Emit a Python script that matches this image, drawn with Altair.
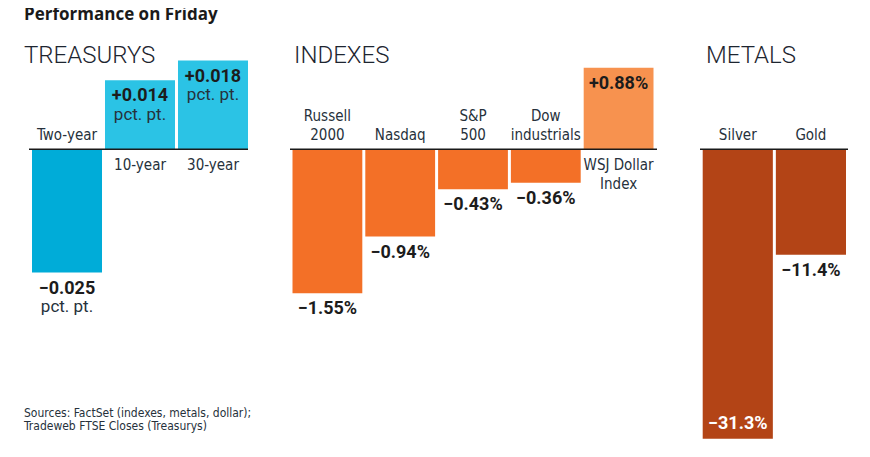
import altair as alt
import pandas as pd

# ---------------- data ----------------
title_text = "Performance on Friday"
panel_titles = ["TREASURYS", "INDEXES", "METALS"]
source_lines = ["Sources: FactSet (indexes, metals, dollar);", "Tradeweb FTSE Closes (Treasurys)"]

treasury_names = ["Two-year", "10-year", "30-year"]
treasury_values = [-0.025, 0.014, 0.018]
treasury_labels = ["\u22120.025", "+0.014", "+0.018"]
treasury_units = ["pct. pt.", "pct. pt.", "pct. pt."]
treasury_colors = ["#00acd8", "#2bc3e5", "#2bc3e5"]
treasury_inside = [False, False, False]

index_names = ["Russell\n2000", "Nasdaq", "S&P\n500", "Dow\nindustrials", "WSJ Dollar\nIndex"]
index_values = [-1.55, -0.94, -0.43, -0.36, 0.88]
index_labels = ["\u22121.55%", "\u22120.94%", "\u22120.43%", "\u22120.36%", "+0.88%"]
index_units = ["", "", "", "", ""]
index_colors = ["#f37027", "#f37027", "#f37027", "#f37027", "#f7924f"]
index_inside = [False, False, False, False, False]

metal_names = ["Silver", "Gold"]
metal_values = [-31.3, -11.4]
metal_labels = ["\u221231.3%", "\u221211.4%"]
metal_units = ["", ""]
metal_colors = ["#b34416", "#b34416"]
metal_inside = [True, False]

# ---------------- layout (pixels, plot coords) ----------------
PAD_TOP = 8
W, H = 854, 441 - PAD_TOP
ZERO_Y = 141.3 - PAD_TOP
NARROW = "DejaVu Sans Condensed, Liberation Sans Narrow, Roboto, sans-serif"
VALFONT = "Roboto, sans-serif"
TEXT_DARK = "#1c1c1c"
NAME_COLOR = "#26313b"


def frame(names, values, labels, units, colors, inside):
    near, far = [], []
    for n, v in zip(names, values):
        parts = n.split("\n")
        if v < 0:  # label sits above the zero line, last line nearest to it
            near.append(parts[-1])
            far.append(parts[0] if len(parts) > 1 else "")
        else:      # label sits below the zero line, first line nearest to it
            near.append(parts[0])
            far.append(parts[1] if len(parts) > 1 else "")
    return pd.DataFrame({
        "name": names, "value": values, "label": labels,
        "unit": units, "color": colors, "inside": inside,
        "near": near, "far": far,
        "zero": [0] * len(names), "idx": list(range(len(names))),
    })


def group(df, names, px_per_unit, bar_range, rule_span, title, title_x, extra=()):
    domain = [-(H - ZERO_Y) / px_per_unit, ZERO_Y / px_per_unit]
    x = alt.X("name:N", sort=names, axis=None,
              scale=alt.Scale(range=bar_range, paddingInner=0.041, paddingOuter=0))
    y = alt.Y("value:Q", axis=None, scale=alt.Scale(domain=domain, nice=False))
    y0 = alt.Y("zero:Q", axis=None)
    base = alt.Chart(df)

    bars = base.mark_bar().encode(x=x, y=y, color=alt.Color("color:N", scale=None))

    rule = base.transform_filter("datum.idx == 0").mark_rule(
        color="#1a1a1a", strokeWidth=1.4
    ).encode(y=y0, x=alt.value(rule_span[0]), x2=alt.value(rule_span[1]))

    name_style = dict(baseline="alphabetic", font=NARROW, fontSize=15, color=NAME_COLOR)
    neg = base.transform_filter("datum.value < 0")
    pos = base.transform_filter("datum.value >= 0")
    above_near = neg.mark_text(dy=-9, **name_style).encode(x=x, y=y0, text="near:N")
    above_far = neg.mark_text(dy=-28, **name_style).encode(x=x, y=y0, text="far:N")
    below_near = pos.mark_text(dy=21, **name_style).encode(x=x, y=y0, text="near:N")
    below_far = pos.mark_text(dy=40, **name_style).encode(x=x, y=y0, text="far:N")

    vals_out = base.transform_filter("!datum.inside").mark_text(
        baseline="alphabetic", dy=21, font=VALFONT, fontSize=18, fontWeight="bold",
        color=TEXT_DARK
    ).encode(x=x, y=y, text="label:N")

    vals_in = base.transform_filter("datum.inside").mark_text(
        baseline="alphabetic", dy=-10, font=VALFONT, fontSize=18, fontWeight="bold",
        color="white"
    ).encode(x=x, y=y, text="label:N")

    unit_txt = base.transform_filter("datum.unit != ''").mark_text(
        baseline="alphabetic", dy=39.5, font=VALFONT, fontSize=17, color=NAME_COLOR
    ).encode(x=x, y=y, text="unit:N")

    ttl = alt.Chart(pd.DataFrame({"t": [title]})).mark_text(
        align="left", baseline="alphabetic", font="Roboto", fontWeight=300,
        fontSize=24, color="#1d2530"
    ).encode(text="t:N", x=alt.value(title_x), y=alt.value(55 - PAD_TOP))

    return alt.layer(bars, rule, above_near, above_far, below_near, below_far,
                     vals_out, vals_in, unit_txt, ttl, *extra)


main_title = alt.Chart(pd.DataFrame({"t": [title_text]})).mark_text(
    align="left", baseline="alphabetic", font="Open Sans", fontWeight="bold",
    fontSize=17, color="#1a1a1a"
).encode(text="t:N", x=alt.value(16), y=alt.value(12 - PAD_TOP))

sources = alt.Chart(pd.DataFrame({"t": ["\n".join(source_lines)]})).mark_text(
    align="left", baseline="alphabetic", font=NARROW, fontSize=12,
    color="#26313b", lineBreak="\n", lineHeight=13
).encode(text="t:N", x=alt.value(16), y=alt.value(409.3 - PAD_TOP))

g1 = group(frame(treasury_names, treasury_values, treasury_labels, treasury_units,
                 treasury_colors, treasury_inside),
           treasury_names, 4930, [24, 240], [21, 240], panel_titles[0], 16,
           extra=(main_title, sources))
g2 = group(frame(index_names, index_values, index_labels, index_units,
                 index_colors, index_inside),
           index_names, 92.8, [284.5, 645.5], [282, 649], panel_titles[1], 286)
g3 = group(frame(metal_names, metal_values, metal_labels, metal_units,
                 metal_colors, metal_inside),
           metal_names, 9.25, [694.7, 838], [692, 840], panel_titles[2], 698)

chart = alt.layer(g1, g2, g3).resolve_scale(
    x="independent", y="independent"
).properties(
    width=W, height=H,
    padding={"top": PAD_TOP, "left": 0, "right": 0, "bottom": 0},
    autosize=alt.AutoSizeParams(type="none"),
).configure_view(stroke=None)

chart.save("out.html", embed_options={"renderer": "svg", "actions": False})
